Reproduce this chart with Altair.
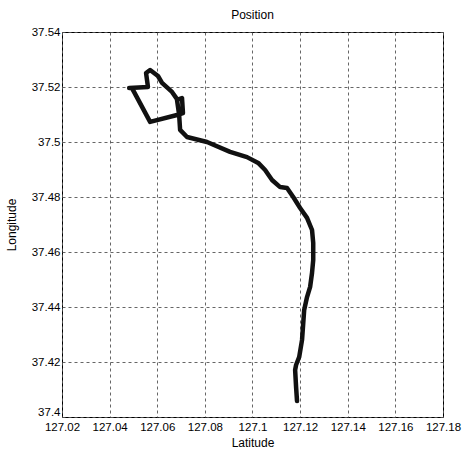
import altair as alt
import pandas as pd

# Path coordinates (Latitude on x, Longitude on y)
lat = [127.1187, 127.1183, 127.1179, 127.1183, 127.1196, 127.1208, 127.1217, 127.1229,
       127.1242, 127.1250, 127.1255, 127.1255, 127.1250, 127.1229, 127.1200, 127.1171,
       127.1145, 127.1116, 127.1082, 127.1053, 127.1024, 127.0977, 127.0906, 127.0809,
       127.0725, 127.0696, 127.0692, 127.0683, 127.0704, 127.0708, 127.0683, 127.0570,
       127.0494, 127.0482, 127.0561, 127.0553, 127.0570, 127.0603, 127.0620, 127.0662,
       127.0683]
lon = [37.4058, 37.4109, 37.4171, 37.4189, 37.4218, 37.4280, 37.4389, 37.4436,
       37.4473, 37.4524, 37.4571, 37.4633, 37.4680, 37.4724, 37.4760, 37.4800,
       37.4833, 37.4836, 37.4862, 37.4898, 37.4924, 37.4945, 37.4964, 37.5000,
       37.5018, 37.5044, 37.5098, 37.5153, 37.5160, 37.5105, 37.5098, 37.5073,
       37.5196, 37.5196, 37.5200, 37.5251, 37.5262, 37.5240, 37.5215, 37.5182,
       37.5156]

x_ticks = [127.02, 127.04, 127.06, 127.08, 127.1, 127.12, 127.14, 127.16, 127.18]
y_ticks = [37.4, 37.42, 37.44, 37.46, 37.48, 37.5, 37.52, 37.54]

df = pd.DataFrame({"lat": lat, "lon": lon, "i": list(range(len(lat)))})

FONT = "Liberation Sans"

chart = alt.Chart(df).mark_line(color="#111111", strokeWidth=4.5, strokeJoin="round", strokeCap="round").encode(
    x=alt.X("lat:Q", scale=alt.Scale(domain=[127.02, 127.18], nice=False, zero=False),
            axis=alt.Axis(values=x_ticks, format=".6~g", title="Latitude", ticks=False,
                          labelOverlap=False, labelBound=False, labelFlush=False,
                          labelPadding=4, titlePadding=5, domain=False)),
    y=alt.Y("lon:Q", scale=alt.Scale(domain=[37.4, 37.54], nice=False, zero=False),
            axis=alt.Axis(values=y_ticks, format=".6~g", title="Longitude", ticks=False,
                          labelOverlap=False, labelFlush=False,
                          labelBaseline={"condition": {"test": "datum.value < 37.41", "value": "bottom"},
                                         "value": "middle"},
                          labelPadding=2, titlePadding=13, domain=False)),
    order=alt.Order("i:Q"),
).properties(
    width=381, height=385,
    title=alt.TitleParams("Position", font=FONT, fontSize=12, fontWeight="normal",
                          color="black", offset=4),
    autosize=alt.AutoSizeParams(type="none"),
    padding={"left": 62, "top": 32, "right": 29, "bottom": 36},
    background="white",
).configure_axis(
    labelFont=FONT, titleFont=FONT, labelFontSize=11.5, titleFontSize=12,
    labelColor="black", titleColor="black", titleFontWeight="normal",
    grid=True, gridColor="#555555", gridDash=[3, 3], gridWidth=1, gridOpacity=0.9,
).configure_view(stroke="black", strokeWidth=1)

chart.save("out.html", embed_options={"renderer": "svg", "actions": False})
